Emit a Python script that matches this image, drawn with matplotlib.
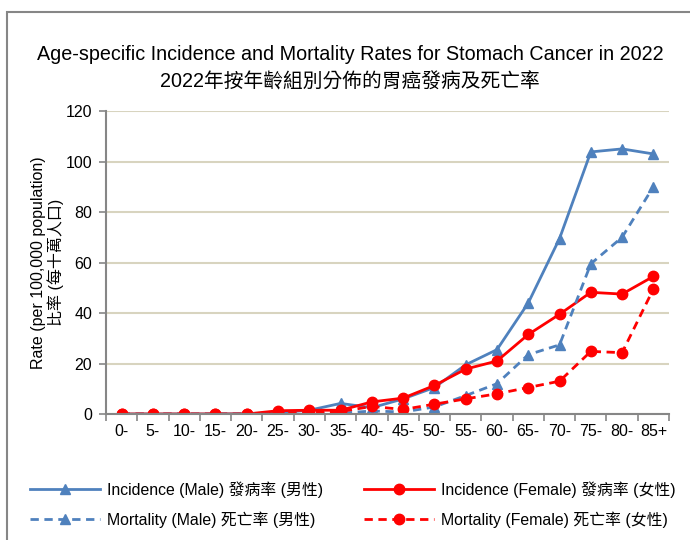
import matplotlib
matplotlib.use('Agg')
from matplotlib import pyplot as plt
from matplotlib.patches import Rectangle

plt.rcParams['font.family'] = ['Liberation Sans', 'Noto Sans CJK TC', 'DejaVu Sans']

ages = ['0-', '5-', '10-', '15-', '20-', '25-', '30-', '35-', '40-', '45-',
        '50-', '55-', '60-', '65-', '70-', '75-', '80-', '85+']

inc_male = [0, 0, 0, 0, 0.1, 0.5, 1.5, 4.2, 2.5, 6.0,
            10.5, 19.5, 25.5, 44.0, 69.5, 103.8, 105.0, 103.0]
mort_male = [0, 0, 0, 0, 0, 0.2, 0.5, 0.3, 1.2, 0.8,
             2.8, 7.3, 12.0, 23.5, 27.4, 59.5, 70.0, 90.0]
inc_female = [0, 0, 0, 0, 0, 1.3, 1.5, 1.5, 4.8, 6.3,
              11.3, 17.8, 21.0, 31.5, 39.5, 48.2, 47.5, 54.5]
mort_female = [0, 0, 0, 0, 0, 0.3, 0.8, 1.0, 3.0, 1.8,
               3.9, 6.0, 8.0, 10.5, 13.0, 24.8, 24.3, 49.5]

blue = '#4f81bd'
red = '#ff0000'
grey = '#868686'

fig = plt.figure(figsize=(6.9, 5.4), dpi=100)
ax = fig.add_axes([0.1536, 0.2333, 0.816, 0.5611])

# outer frame, cut off at right and bottom like the original
fig.patches.append(Rectangle((7 / 690, -0.1), 1.2, 1 - 12 / 540 + 0.1,
                             transform=fig.transFigure, fill=False,
                             edgecolor=grey, linewidth=1.5))

x = list(range(len(ages)))
ax.plot(x, inc_male, color=blue, lw=2, marker='^', ms=7,
        label='Incidence (Male) 發病率 (男性)')
ax.plot(x, inc_female, color=red, lw=2, marker='o', ms=7.5,
        label='Incidence (Female) 發病率 (女性)')
ax.plot(x, mort_male, color=blue, lw=2, ls=(0, (3, 2)), marker='^', ms=7,
        label='Mortality (Male) 死亡率 (男性)')
ax.plot(x, mort_female, color=red, lw=2, ls=(0, (3, 2)), marker='o', ms=7.5,
        label='Mortality (Female) 死亡率 (女性)')

ax.set_xlim(-0.5, 17.5)
ax.set_ylim(0, 120)
ax.set_yticks(range(0, 121, 20))
ax.set_xticks(x)
ax.set_xticklabels(ages)
ax.set_xticks([i - 0.5 for i in range(19)], minor=True)
ax.tick_params(axis='x', which='major', length=0, pad=7, labelsize=11.5)
ax.tick_params(axis='x', which='minor', length=5, color=grey, width=1.2)
ax.tick_params(axis='y', length=5, color=grey, width=1.2, labelsize=11.5, pad=5)
ax.grid(axis='y', color='#d8d4bf', lw=1.5)
ax.set_axisbelow(True)
for s in ['top', 'right']:
    ax.spines[s].set_visible(False)
for s in ['left', 'bottom']:
    ax.spines[s].set_color(grey)
    ax.spines[s].set_linewidth(1.5)

ax.set_ylabel('Rate (per 100,000 population)\n比率 (每十萬人口)', fontsize=11.5,
              labelpad=1, linespacing=1.1)

fig.text(0.507, 0.900, 'Age-specific Incidence and Mortality Rates for Stomach Cancer in 2022',
         ha='center', va='center', fontsize=14.2)
fig.text(0.507, 0.849, '2022年按年齡組別分佈的胃癌發病及死亡率',
         ha='center', va='center', fontsize=14.2)

handles, labels = ax.get_legend_handles_labels()
order = [0, 2, 1, 3]
fig.legend([handles[i] for i in order], [labels[i] for i in order],
           loc='upper left', bbox_to_anchor=(30 / 690, 1 - 481 / 540), ncol=2,
           frameon=False, fontsize=11.4, handlelength=4.4, columnspacing=2.6,
           labelspacing=0.85, handletextpad=0.45, borderpad=0, borderaxespad=0)

fig.savefig('out.png')
